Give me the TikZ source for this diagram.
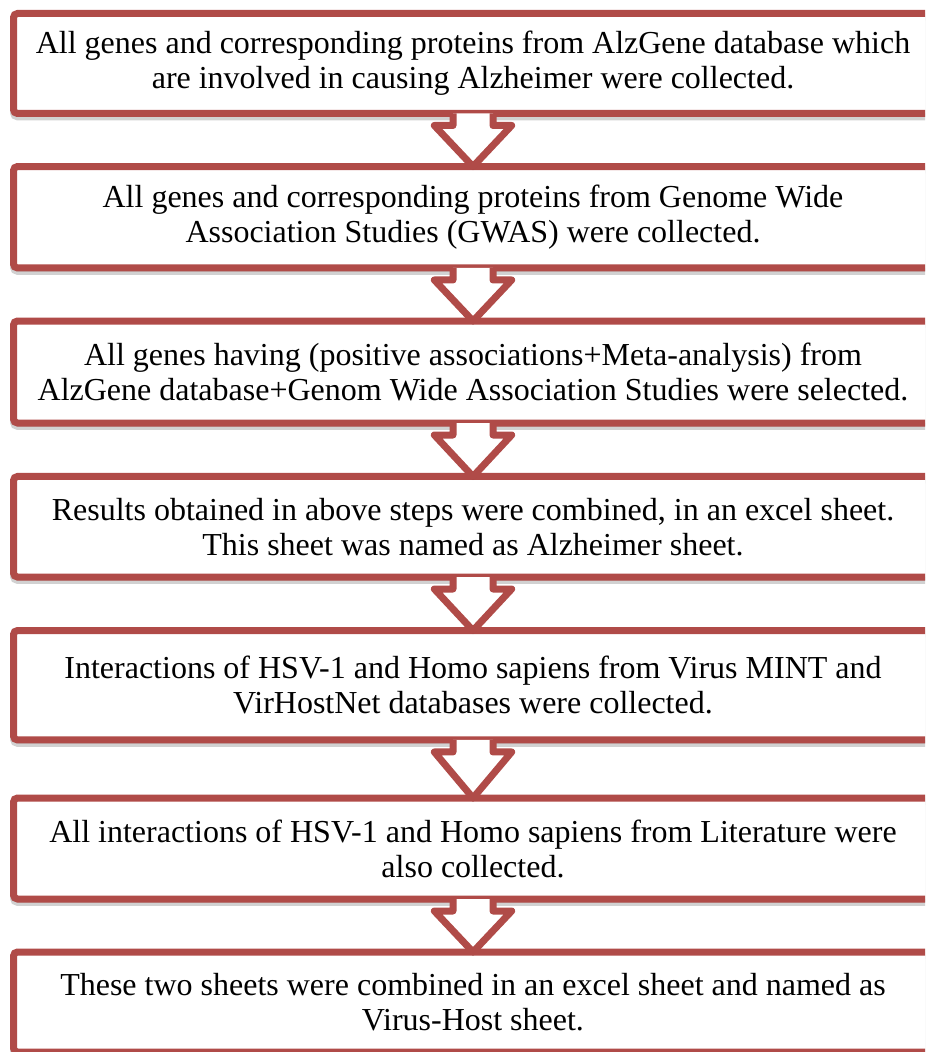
\documentclass[tikz,border=0pt]{standalone}
\usepackage{fontspec}
\setmainfont{Liberation Serif}
\definecolor{boxred}{RGB}{176,75,72}
\tikzset{
	stepbox/.style={draw=boxred, fill=white, line width=5.25pt, rounded corners=3pt,
		minimum width=689.25pt, inner sep=0pt, outer sep=0pt, align=center,
		font=\fontsize{24}{26.25}\selectfont,
		preaction={draw=black, fill=black, opacity=.18, transform canvas={yshift=-2.5pt}}},
	downarrow/.style={draw=boxred, fill=white, line width=5.25pt, line join=round,
		preaction={draw=black, fill=black, opacity=.18, transform canvas={yshift=-2.5pt}}}
}
\begin{document}
\begin{tikzpicture}[x=0.75pt, y=-0.75pt]
				\useasboundingbox (0,0) rectangle (925,1052);
				\clip (0,0) rectangle (925,1052);
				% steps
				\node[stepbox, minimum height=75pt] (b1) at (473, 63.5)
					{All genes and corresponding proteins from AlzGene database which\\are involved in causing Alzheimer were collected.};
				\node[stepbox, minimum height=76.1pt] (b2) at (473, 217.25)
					{All genes and corresponding proteins from Genome Wide\\Association Studies (GWAS) were collected.};
				\node[stepbox, minimum height=76.5pt] (b3) at (473, 372)
					{All genes having (positive associations+Meta-analysis) from\\AlzGene database+Genom Wide Association Studies were selected.};
				\node[stepbox, minimum height=75.4pt] (b4) at (473, 526.75)
					{Results obtained in above steps were combined, in an excel sheet.\\This sheet was named as Alzheimer sheet.};
				\node[stepbox, minimum height=82.1pt] (b5) at (473, 685.25)
					{Interactions of HSV-1 and Homo sapiens from Virus MINT and\\VirHostNet databases were collected.};
				\node[stepbox, minimum height=75.75pt] (b6) at (473, 848.5)
					{All interactions of HSV-1 and Homo sapiens from Literature were\\also collected.};
				\node[stepbox, minimum height=75pt] (b7) at (473, 1002)
					{These two sheets were combined in an excel sheet and named as\\Virus-Host sheet.};
				% arrows between steps
				\foreach \a/\b in {b1/b2, b2/b3, b3/b4, b4/b5, b5/b6, b6/b7}{
					\draw[downarrow] ([xshift=-15pt]\a.south) -- ++(0pt,-9pt) -- ++(-14pt,0pt)
						-- (\b.north) -- ([xshift=29pt, yshift=-9pt]\a.south) -- ++(-14pt,0pt)
						-- ([xshift=15pt]\a.south);
				}
			\end{tikzpicture}
\end{document}
